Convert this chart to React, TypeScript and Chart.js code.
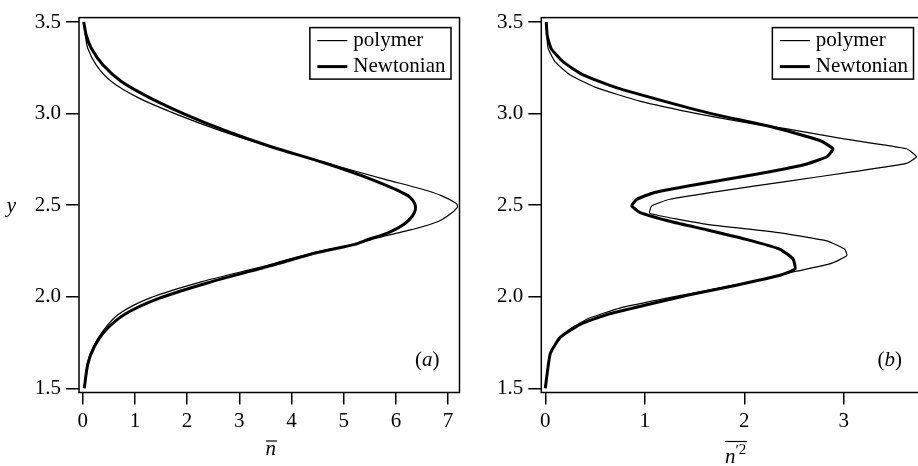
import { useEffect, useRef } from "react";
import { Chart, registerables } from "chart.js";

Chart.register(...registerables);

const FONT = '"Liberation Serif", "Times New Roman", serif';

// shared y ticks
const yTicks = [1.5, 2.0, 2.5, 3.0, 3.5];

// ---------- panel (a): mean n ----------
const aTicksX = [0, 1, 2, 3, 4, 5, 6, 7];
const aPolymerY = [3.5, 3.425, 3.354, 3.265, 3.175, 3.087, 2.997, 2.908, 2.819, 2.73, 2.641, 2.588, 2.552, 2.51, 2.49, 2.456, 2.411, 2.366, 2.322, 2.286, 2.242, 2.17, 2.081, 1.992, 1.903, 1.814, 1.725, 1.635, 1.5];
const aPolymerN = [0.02, 0.05, 0.1, 0.26, 0.55, 1.06, 1.79, 2.62, 3.58, 4.67, 5.79, 6.49, 6.87, 7.15, 7.18, 7.06, 6.81, 6.3, 5.66, 5.21, 4.44, 3.52, 2.27, 1.28, 0.68, 0.39, 0.2, 0.09, 0.03];
const aNewtY = [3.5, 3.425, 3.354, 3.265, 3.175, 3.087, 2.997, 2.908, 2.819, 2.73, 2.641, 2.552, 2.5, 2.447, 2.393, 2.349, 2.313, 2.286, 2.242, 2.17, 2.081, 1.992, 1.903, 1.814, 1.725, 1.635, 1.5];
const aNewtN = [0.02, 0.07, 0.17, 0.39, 0.74, 1.28, 1.95, 2.72, 3.61, 4.64, 5.53, 6.23, 6.37, 6.33, 6.14, 5.85, 5.47, 5.21, 4.51, 3.61, 2.46, 1.47, 0.8, 0.43, 0.22, 0.1, 0.03];

// ---------- panel (b): n'^2 ----------
const bTicksX = [0, 1, 2, 3];
const bPolymerY = [3.5, 3.425, 3.354, 3.282, 3.211, 3.14, 3.068, 2.997, 2.944, 2.916, 2.862, 2.808, 2.764, 2.728, 2.683, 2.63, 2.577, 2.532, 2.496, 2.456, 2.398, 2.349, 2.305, 2.259, 2.224, 2.179, 2.135, 2.099, 2.045, 1.992, 1.938, 1.885, 1.832, 1.778, 1.689, 1.5];
const bPolymerN = [0.01, 0.015, 0.03, 0.1, 0.25, 0.52, 0.95, 1.55, 2.09, 2.43, 3.0, 3.63, 3.73, 3.63, 3.1, 2.43, 1.76, 1.25, 1.07, 1.05, 1.59, 2.36, 2.83, 3.01, 3.03, 2.86, 2.49, 2.23, 1.72, 1.22, 0.75, 0.45, 0.27, 0.15, 0.05, 0.0];
const bNewtY = [3.5, 3.425, 3.354, 3.282, 3.211, 3.14, 3.068, 2.997, 2.924, 2.853, 2.808, 2.764, 2.719, 2.666, 2.603, 2.568, 2.532, 2.496, 2.461, 2.408, 2.366, 2.313, 2.259, 2.206, 2.152, 2.117, 2.063, 2.01, 1.956, 1.903, 1.849, 1.778, 1.689, 1.5];
const bNewtN = [0.01, 0.02, 0.06, 0.18, 0.38, 0.72, 1.19, 1.69, 2.3, 2.76, 2.89, 2.83, 2.59, 2.09, 1.42, 1.09, 0.92, 0.87, 0.95, 1.28, 1.62, 2.02, 2.36, 2.49, 2.51, 2.36, 1.92, 1.45, 1.02, 0.62, 0.35, 0.15, 0.05, 0.0];

type Series = { label: string; ys: number[]; xs: number[]; width: number };
type PanelSpec = {
  left: number;
  width: number;
  xMin: number;
  xMax: number;
  xTicks: number[];
  yAxisWidth: number;
  padRight: number;
  series: Series[];
  tension: number;
  tag: string;
  xTitle: "nbar" | "nprime";
  showYTitle: boolean;
  titleShift: number;
};

const H = 466;
const TOP = 9.5;
const XAXIS_H = 73.5;

function makeDecor(spec: PanelSpec) {
  return {
    id: "decor",
    afterDraw(chart: any) {
      const { ctx, chartArea: a } = chart;
      ctx.save();
      // frame
      ctx.strokeStyle = "#000";
      ctx.lineWidth = 1.5;
      ctx.strokeRect(a.left, a.top, a.right - a.left, a.bottom - a.top);

      // legend
      ctx.font = `21px ${FONT}`;
      const labels = chart.data.datasets.map((d: any) => d.label as string);
      const widths = chart.data.datasets.map((d: any) => d.borderWidth as number);
      const maxW = Math.max(...labels.map((l: string) => ctx.measureText(l).width));
      const padL = 7.5, lineLen = 30, gap = 6, padR = 5.5;
      const boxW = padL + lineLen + gap + maxW + padR;
      const boxH = 51.5;
      const bx = a.right - 8.5 - boxW;
      const by = a.top + 10;
      ctx.fillStyle = "#fff";
      ctx.fillRect(bx, by, boxW, boxH);
      ctx.lineWidth = 1.5;
      ctx.strokeRect(bx, by, boxW, boxH);
      labels.forEach((l: string, i: number) => {
        const ry = by + 13 + i * 26;
        ctx.beginPath();
        ctx.lineWidth = widths[i];
        ctx.moveTo(bx + padL, ry);
        ctx.lineTo(bx + padL + lineLen, ry);
        ctx.stroke();
        ctx.fillStyle = "#000";
        ctx.textAlign = "left";
        ctx.textBaseline = "alphabetic";
        ctx.fillText(l, bx + padL + lineLen + gap, ry + 5);
      });

      // panel tag "(a)"
      const parts = [
        { t: "(", it: false },
        { t: spec.tag, it: true },
        { t: ")", it: false },
      ];
      let total = 0;
      const pw = parts.map((p) => {
        ctx.font = `${p.it ? "italic " : ""}21px ${FONT}`;
        const w = ctx.measureText(p.t).width;
        total += w;
        return w;
      });
      let px = a.right - 20 - total;
      const pbase = a.bottom - 26.5;
      parts.forEach((p, i) => {
        ctx.font = `${p.it ? "italic " : ""}21px ${FONT}`;
        ctx.fillStyle = "#000";
        ctx.textAlign = "left";
        ctx.fillText(p.t, px, pbase);
        px += pw[i];
      });

      // y title
      if (spec.showYTitle) {
        ctx.font = `italic 21px ${FONT}`;
        ctx.textAlign = "center";
        ctx.fillText("y", 11.5, (a.top + a.bottom) / 2 + 6.5);
      }

      // x title
      const cx = (a.left + a.right) / 2 + spec.titleShift;
      ctx.textAlign = "left";
      if (spec.xTitle === "nbar") {
        ctx.font = `italic 21px ${FONT}`;
        const w = ctx.measureText("n").width;
        const x0 = cx - w / 2;
        ctx.fillText("n", x0, 454.5);
        ctx.beginPath();
        ctx.lineWidth = 1.2;
        ctx.moveTo(x0 + 0.5, 441);
        ctx.lineTo(x0 + w + 1, 441);
        ctx.stroke();
      } else {
        ctx.font = `italic 21px ${FONT}`;
        const wn = ctx.measureText("n").width;
        ctx.font = `15px ${FONT}`;
        const wp = ctx.measureText("\u2032").width;
        const w2 = ctx.measureText("2").width;
        const tw = wn + wp + w2;
        const x0 = cx - tw / 2;
        ctx.font = `italic 21px ${FONT}`;
        ctx.fillText("n", x0, 462.5);
        ctx.font = `15px ${FONT}`;
        ctx.fillText("\u2032", x0 + wn, 455);
        ctx.fillText("2", x0 + wn + wp, 453.5);
        ctx.beginPath();
        ctx.lineWidth = 1.2;
        ctx.moveTo(x0, 441.5);
        ctx.lineTo(x0 + tw + 0.5, 441.5);
        ctx.stroke();
      }
      ctx.restore();
    },
  };
}

function Panel({ spec }: { spec: PanelSpec }) {
  const ref = useRef<HTMLCanvasElement | null>(null);
  useEffect(() => {
    if (!ref.current) return;
    const tickFont = { family: FONT, size: 21 };
    const chart = new Chart(ref.current, {
      type: "scatter",
      data: {
        datasets: spec.series.map((s) => ({
          label: s.label,
          data: s.ys.map((y, i) => ({ x: s.xs[i], y })),
          showLine: true,
          borderColor: "#000",
          backgroundColor: "#000",
          borderWidth: s.width,
          pointRadius: 0,
          pointHoverRadius: 0,
          tension: spec.tension,
          fill: false,
        })),
      },
      options: {
        responsive: false,
        animation: false,
        devicePixelRatio: 1,
        events: [],
        layout: { padding: { top: TOP, right: spec.padRight, left: 0, bottom: 0 } },
        plugins: { legend: { display: false }, tooltip: { enabled: false } },
        scales: {
          x: {
            type: "linear",
            min: spec.xMin,
            max: spec.xMax,
            afterBuildTicks: (s: any) => {
              s.ticks = spec.xTicks.map((v) => ({ value: v }));
            },
            afterFit: (s: any) => {
              s.height = XAXIS_H;
            },
            ticks: {
              font: tickFont,
              color: "#000",
              padding: 4,
              maxRotation: 0,
              autoSkip: false,
              callback: (v: any) => String(Math.round(Number(v))),
            },
            grid: {
              display: true,
              drawOnChartArea: false,
              drawTicks: true,
              tickLength: 12,
              color: "#000",
              lineWidth: 1.5,
            },
            border: { display: false },
          },
          y: {
            type: "linear",
            min: 1.477,
            max: 3.524,
            afterBuildTicks: (s: any) => {
              s.ticks = yTicks.map((v) => ({ value: v }));
            },
            afterFit: (s: any) => {
              s.width = spec.yAxisWidth;
            },
            ticks: {
              font: tickFont,
              color: "#000",
              padding: 5,
              autoSkip: false,
              callback: (v: any) => Number(v).toFixed(1),
            },
            grid: {
              display: true,
              drawOnChartArea: false,
              drawTicks: true,
              tickLength: 13,
              color: "#000",
              lineWidth: 1.5,
            },
            border: { display: false },
          },
        },
      } as any,
      plugins: [makeDecor(spec)],
    });
    return () => chart.destroy();
  }, [spec]);
  return (
    <canvas
      ref={ref}
      width={spec.width}
      height={H}
      style={{ position: "absolute", left: spec.left, top: 0, width: spec.width, height: H }}
    />
  );
}

const panelA: PanelSpec = {
  left: 0,
  width: 462,
  xMin: -0.071,
  xMax: 7.218,
  xTicks: aTicksX,
  yAxisWidth: 79,
  padRight: 2.5,
  series: [
    { label: "polymer", ys: aPolymerY, xs: aPolymerN, width: 1.2 },
    { label: "Newtonian", ys: aNewtY, xs: aNewtN, width: 3 },
  ],
  tension: 0.3,
  tag: "a",
  xTitle: "nbar",
  showYTitle: true,
  titleShift: 1.5,
};

const panelB: PanelSpec = {
  left: 458,
  width: 466,
  xMin: -0.04,
  xMax: 3.786,
  xTicks: bTicksX,
  yAxisWidth: 83.3,
  padRight: 2,
  series: [
    { label: "polymer", ys: bPolymerY, xs: bPolymerN, width: 1.2 },
    { label: "Newtonian", ys: bNewtY, xs: bNewtN, width: 3 },
  ],
  tension: 0.15,
  tag: "b",
  xTitle: "nprime",
  showYTitle: false,
  titleShift: 4,
};

export default function App() {
  return (
    <div
      style={{
        position: "fixed",
        left: 0,
        top: 0,
        width: 918,
        height: H,
        overflow: "hidden",
        background: "#fff",
      }}
    >
      <Panel spec={panelA} />
      <Panel spec={panelB} />
    </div>
  );
}
